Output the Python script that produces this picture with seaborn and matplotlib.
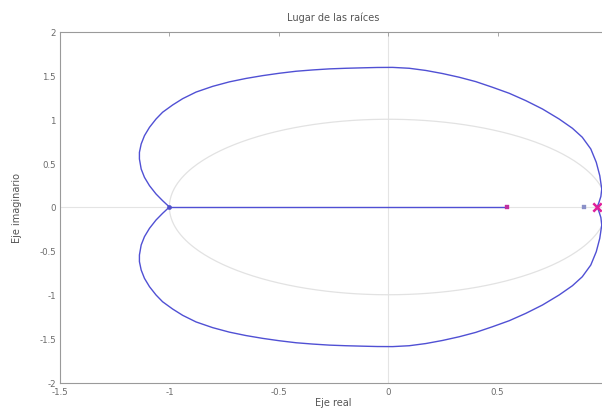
import numpy as np
import pandas as pd
import matplotlib
matplotlib.use("Agg")
import matplotlib.pyplot as plt
import seaborn as sns

# Upper branch of the locus (real, imaginary), from the breakaway at -1 to the pole near 0.955
branch_re = [-1.000, -1.031, -1.061, -1.091, -1.114, -1.129, -1.137, -1.137, -1.129,
             -1.114, -1.091, -1.061, -1.031, -0.985, -0.939, -0.878, -0.802, -0.726,
             -0.650, -0.574, -0.498, -0.421, -0.345, -0.269, -0.193, -0.117, -0.050,
             0.020, 0.096, 0.172, 0.248, 0.324, 0.400, 0.476, 0.553, 0.629, 0.705,
             0.781, 0.842, 0.887, 0.926, 0.951, 0.967, 0.976, 0.972, 0.963, 0.955]
branch_im = [0.000, 0.072, 0.148, 0.243, 0.338, 0.433, 0.547, 0.623, 0.718,
             0.813, 0.908, 1.003, 1.080, 1.163, 1.235, 1.310, 1.375, 1.426,
             1.465, 1.497, 1.524, 1.547, 1.562, 1.574, 1.581, 1.586, 1.590,
             1.591, 1.581, 1.556, 1.521, 1.479, 1.429, 1.365, 1.296, 1.212, 1.117,
             1.003, 0.897, 0.795, 0.661, 0.509, 0.357, 0.205, 0.120, 0.050, 0.000]

# Real-axis segment of the locus
axis_seg_re = [-1.0, 0.545]

# Poles / zeros on the real axis
zero_re = [0.545]
cl_re = [0.895]
pole_re = [0.955]
break_re = [-1.0]

x_ticks = [-1.5, -1, -0.5, 0, 0.5, 1]
y_ticks = [-2, -1.5, -1, -0.5, 0, 0.5, 1, 1.5, 2]

sns.set_style("white")
plt.rcParams['font.family'] = ['DejaVu Sans']

fig = plt.figure(figsize=(6.02, 4.14), dpi=100)
ax = fig.add_axes([60 / 602, 30.5 / 414, 547 / 602, 351 / 414])

# Reference lines: axes through the origin and the unit circle
ax.axhline(0, color="#e4e4e4", lw=0.8, zorder=0)
ax.axvline(0, color="#e4e4e4", lw=0.8, zorder=0)
theta = np.linspace(0, 2 * np.pi, 400)
ax.plot(np.cos(theta), np.sin(theta), color="#e2e2e2", lw=0.9, zorder=0)

blue = "#5050d4"
upper = pd.DataFrame({"re": branch_re, "im": branch_im})
lower = pd.DataFrame({"re": branch_re, "im": [-v for v in branch_im]})
sns.lineplot(data=upper, x="re", y="im", sort=False, estimator=None,
             color=blue, lw=1.0, ax=ax)
sns.lineplot(data=lower, x="re", y="im", sort=False, estimator=None,
             color=blue, lw=1.0, ax=ax)
sns.lineplot(x=axis_seg_re, y=[0, 0], sort=False, estimator=None,
             color=blue, lw=1.0, ax=ax)

sns.scatterplot(x=break_re, y=[0], marker="o", s=10, color="#5050c8",
                edgecolor="#5050c8", ax=ax, zorder=5)
sns.scatterplot(x=zero_re, y=[0], marker="s", s=10, color="#c030a0",
                edgecolor="#c030a0", ax=ax, zorder=5)
sns.scatterplot(x=cl_re, y=[0], marker="s", s=9, color="#8a90c8",
                edgecolor="#8a90c8", ax=ax, zorder=5)
sns.scatterplot(x=pole_re, y=[0], marker="x", s=36, color="#e0209a",
                linewidth=1.8, ax=ax, zorder=6)

ax.set_xlim(-1.5, 1)
ax.set_ylim(-2, 2)
ax.set_xticks(x_ticks)
ax.set_yticks(y_ticks)
ax.set_xticklabels([f"{v:g}" for v in x_ticks])
ax.set_yticklabels([f"{v:g}" for v in y_ticks])

for s in ax.spines.values():
    s.set_color("#9a9a9a")
    s.set_linewidth(0.8)
    s.set_visible(True)

ax.tick_params(direction="in", length=3, width=0.6, color="#9a9a9a",
               labelsize=6.2, labelcolor="#6a6a6a", top=True, right=True,
               pad=3)

ax.set_title("Lugar de las raíces", fontsize=7, color="#555555", pad=8)
ax.set_xlabel("Eje real", fontsize=7, color="#555555", labelpad=1)
ax.set_ylabel("Eje imaginario", fontsize=7, color="#555555", labelpad=12)

fig.savefig("out.png", dpi=100)
